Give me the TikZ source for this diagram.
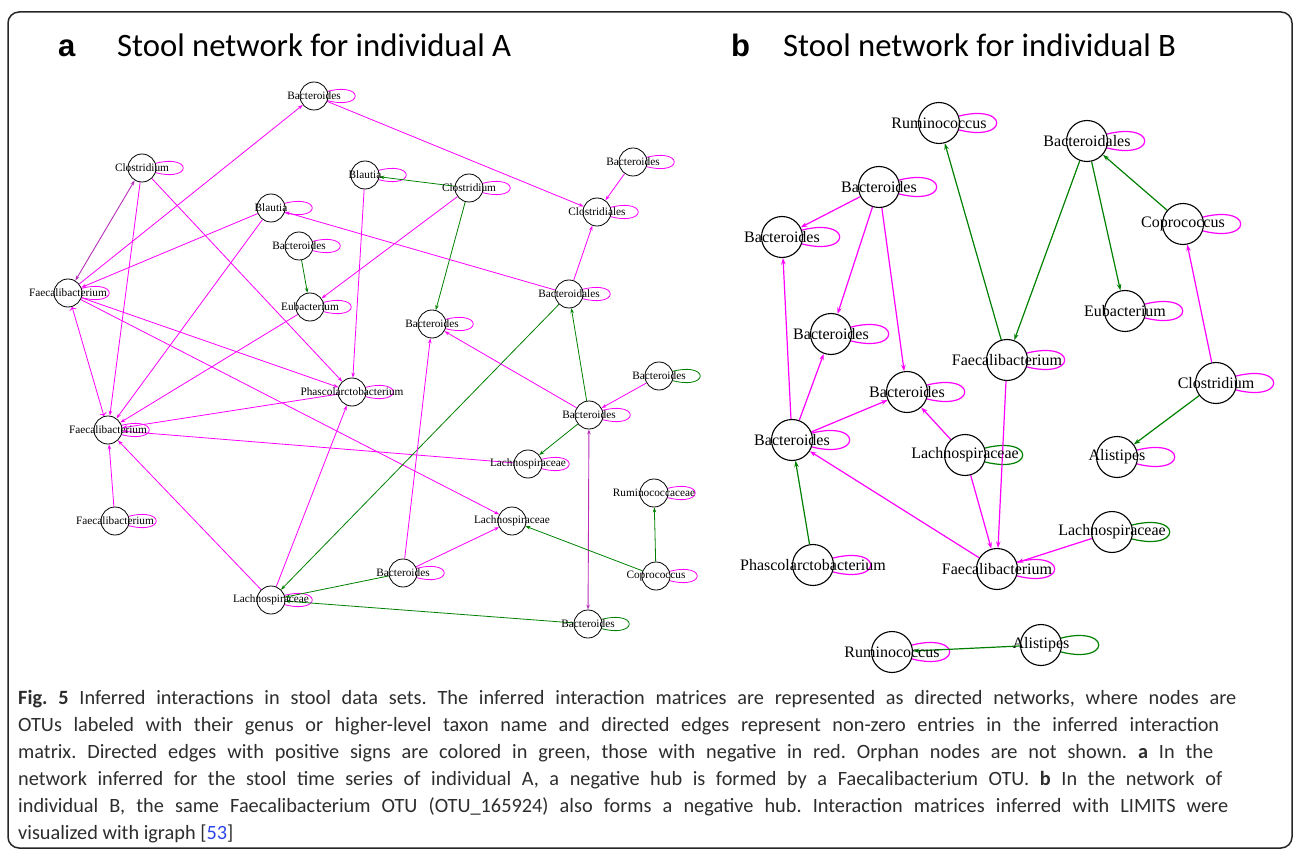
\documentclass[tikz,border=0pt]{standalone}
\usepackage{fontspec}
\setmainfont{Liberation Serif}
\newfontfamily\capfont{Carlito}
\newfontfamily\tagfont{Liberation Sans}
\usetikzlibrary{arrows.meta}
\pgfdeclarelayer{edges}
\pgfsetlayers{edges,main}
\definecolor{negcol}{RGB}{255,0,255}
\definecolor{poscol}{RGB}{0,128,0}
\definecolor{bothcol}{RGB}{185,45,185}
\definecolor{refblue}{RGB}{45,70,230}
\definecolor{captext}{RGB}{45,45,45}
\newcommand{\capline}[2]{\makebox[#1pt][s]{#2}}
\frenchspacing

\begin{document}
\begin{tikzpicture}[x=1pt,y=-1pt,
        % vertices of the two networks, label sits on the circle centre
        va/.style={circle, draw, fill=white, minimum size=28pt, inner sep=0pt, line width=0.8pt,
            label={[font=\fontsize{11.3}{12}\selectfont]center:#1}},
        vb/.style={circle, draw, fill=white, minimum size=41pt, inner sep=0pt, line width=1.1pt,
            label={[font=\fontsize{16}{17}\selectfont]center:#1}},
        nega/.style={draw=negcol, line width=0.8pt, -{Stealth[length=5pt,width=3.5pt]}},
        posa/.style={draw=poscol, line width=0.8pt, -{Stealth[length=5pt,width=3.5pt]}},
        botha/.style={draw=bothcol, line width=0.9pt, {Stealth[length=5pt,width=3.5pt]}-{Stealth[length=5pt,width=3.5pt]}},
        negb/.style={draw=negcol, line width=1.2pt, -{Stealth[length=6.5pt,width=4.5pt]}},
        posb/.style={draw=poscol, line width=1.2pt, -{Stealth[length=6.5pt,width=4.5pt]}},
        title/.style={font=\capfont\fontsize{32.7}{36}\selectfont, anchor=base west, inner sep=0pt},
        paneltag/.style={font=\tagfont\bfseries\fontsize{31}{36}\selectfont, anchor=base west, inner sep=0pt}
    ]
    \useasboundingbox (0,0) rectangle (1293,850);
    \draw[line width=1.5pt, rounded corners=11pt, black!85] (8,12) rectangle (1292,848);

    \node[paneltag] (tagA) at (58,57) {a};
    \node[title] (titleA) at (117,57) {Stool network for individual A};
    \node[paneltag] (tagB) at (731,57) {b};
    \node[title] (titleB) at (783,57) {Stool network for individual B};

    % panel a
    \node[va=Bacteroides] (aBac1) at (314,96) {};
    \node[va=Clostridium] (aClo1) at (142,168) {};
    \node[va=Blautia] (aBla1) at (271,208) {};
    \node[va=Blautia] (aBla2) at (365,175) {};
    \node[va=Clostridium] (aClo2) at (469,188) {};
    \node[va=Bacteroides] (aBac2) at (633,162) {};
    \node[va=Clostridiales] (aCls) at (597,212) {};
    \node[va=Bacteroides] (aBac3) at (299,246) {};
    \node[va=Faecalibacterium] (aFae1) at (68,293) {};
    \node[va=Eubacterium] (aEub) at (310,307) {};
    \node[va=Bacteroidales] (aBcd) at (569,294) {};
    \node[va=Bacteroides] (aBac4) at (432,324) {};
    \node[va=Phascolarctobacterium] (aPha) at (352,392) {};
    \node[va=Faecalibacterium] (aFae2) at (108,430) {};
    \node[va=Bacteroides] (aBac5) at (659,376) {};
    \node[va=Bacteroides] (aBac6) at (589,415) {};
    \node[va=Lachnospiraceae] (aLac1) at (528,464) {};
    \node[va=Faecalibacterium] (aFae3) at (115,521) {};
    \node[va=Ruminococcaceae] (aRum) at (654,493) {};
    \node[va=Lachnospiraceae] (aLac2) at (512,521) {};
    \node[va=Bacteroides] (aBac7) at (403,573) {};
    \node[va=Coprococcus] (aCop) at (656,576) {};
    \node[va=Lachnospiraceae] (aLac3) at (271,600) {};
    \node[va=Bacteroides] (aBac8) at (588,624) {};

    % panel b
    \node[vb=Ruminococcus] (bRum1) at (939,123) {};
    \node[vb=Bacteroides] (bBac1) at (879,187) {};
    \node[vb=Bacteroides] (bBac2) at (782,237) {};
    \node[vb=Bacteroidales] (bBcd) at (1087,141) {};
    \node[vb=Coprococcus] (bCop) at (1183,224) {};
    \node[vb=Eubacterium] (bEub) at (1125,311) {};
    \node[vb=Bacteroides] (bBac3) at (831,334) {};
    \node[vb=Faecalibacterium] (bFae1) at (1007,360) {};
    \node[vb=Bacteroides] (bBac4) at (907,392) {};
    \node[vb=Clostridium] (bClo) at (1216,383) {};
    \node[vb=Bacteroides] (bBac5) at (792,440) {};
    \node[vb=Lachnospiraceae] (bLac1) at (965,455) {};
    \node[vb=Alistipes] (bAli1) at (1117,457) {};
    \node[vb=Lachnospiraceae] (bLac2) at (1112,532) {};
    \node[vb=Phascolarctobacterium] (bPha) at (813,565) {};
    \node[vb=Faecalibacterium] (bFae2) at (997,569) {};
    \node[vb=Ruminococcus] (bRum2) at (892,652) {};
    \node[vb=Alistipes] (bAli2) at (1041,645) {};

    \begin{pgfonlayer}{edges}
    % self loops
    \foreach \v in {aBac1,aClo1,aBla1,aBla2,aClo2,aBac2,aCls,aBac3,aFae1,aEub,aBcd,aBac4,aPha,aFae2,aBac6,aLac1,aFae3,aRum,aBac7,aCop,aLac3}
        \draw[negcol, line width=0.8pt] (\v.center) .. controls +(55,-23) and +(55,23) .. (\v.center);
    \foreach \v in {aBac5,aBac8}
        \draw[poscol, line width=0.8pt] (\v.center) .. controls +(55,-23) and +(55,23) .. (\v.center);
    \foreach \v in {bRum1,bBac1,bBac2,bBcd,bCop,bEub,bBac3,bFae1,bBac4,bClo,bBac5,bAli1,bPha,bFae2,bRum2}
        \draw[negcol, line width=1.2pt] (\v.center) .. controls +(77,-33) and +(77,33) .. (\v.center);
    \foreach \v in {bLac1,bLac2,bAli2}
        \draw[poscol, line width=1.2pt] (\v.center) .. controls +(77,-33) and +(77,33) .. (\v.center);

    % edges a
    \draw[nega] (aFae1) -- (aBac1);
    \draw[botha] (aFae1) -- (aClo1);
    \draw[nega] (aBla1) -- (aFae1);
    \draw[nega, <->] (aFae1) -- (aFae2);
    \draw[nega] (aClo1) -- (aFae2);
    \draw[nega] (aBla1) -- (aFae2);
    \draw[nega] (aEub) -- (aFae2);
    \draw[nega] (aPha) -- (aFae2);
    \draw[nega] (aLac1) -- (aFae2);
    \draw[nega] (aLac3) -- (aFae2);
    \draw[nega] (aFae3) -- (aFae2);
    \draw[nega] (aFae1) -- (aPha);
    \draw[nega] (aFae1) -- (aLac2);
    \draw[nega] (aClo1) -- (aPha);
    \draw[nega] (aBla2) -- (aPha);
    \draw[posa] (aClo2) -- (aBla2);
    \draw[nega] (aClo2) -- (aEub);
    \draw[posa] (aClo2) -- (aBac4);
    \draw[posa] (aBac3) -- (aEub);
    \draw[nega] (aBac1) -- (aCls);
    \draw[nega] (aBac2) -- (aCls);
    \draw[nega] (aBcd) -- (aCls);
    \draw[nega] (aBcd) -- (aBla1);
    \draw[posa] (aBcd) -- (aLac3);
    \draw[posa] (aBac6) -- (aBcd);
    \draw[nega] (aBac6) -- (aBac4);
    \draw[nega] (aBac5) -- (aBac6);
    \draw[posa] (aBac6) -- (aLac1);
    \draw[botha] (aBac6) -- (aBac8);
    \draw[nega] (aBac7) -- (aBac4);
    \draw[nega] (aBac7) -- (aLac2);
    \draw[posa] (aCop) -- (aLac2);
    \draw[posa] (aCop) -- (aRum);
    \draw[nega] (aLac3) -- (aPha);
    \draw[posa] (aBac7) -- (aLac3);
    \draw[posa] (aBac8) -- (aLac3);

    % edges b
    \draw[posb] (bFae1) -- (bRum1);
    \draw[posb] (bBcd) -- (bFae1);
    \draw[posb] (bBcd) -- (bEub);
    \draw[posb] (bCop) -- (bBcd);
    \draw[negb] (bClo) -- (bCop);
    \draw[posb] (bClo) -- (bAli1);
    \draw[negb] (bBac1) -- (bBac2);
    \draw[negb] (bBac1) -- (bBac3);
    \draw[negb] (bBac1) -- (bBac4);
    \draw[negb] (bBac5) -- (bBac2);
    \draw[negb] (bBac5) -- (bBac3);
    \draw[negb] (bBac5) -- (bBac4);
    \draw[negb] (bLac1) -- (bBac4);
    \draw[negb] (bLac1) -- (bFae2);
    \draw[negb] (bFae1) -- (bFae2);
    \draw[negb] (bFae2) -- (bBac5);
    \draw[posb] (bPha) -- (bBac5);
    \draw[negb] (bLac2) -- (bFae2);
    \draw[posb] (bAli2) -- (bRum2);
    \end{pgfonlayer}

    % caption
    \node[anchor=north west, inner sep=0pt, align=left, text=captext,
          font=\capfont\fontsize{20.3}{27}\selectfont] (caption) at (18,690)
        {\capline{1218}{\textbf{Fig. 5} Inferred interactions in stool data sets. The inferred interaction matrices are represented as directed networks, where nodes are}\\
         \capline{1201}{OTUs labeled with their genus or higher-level taxon name and directed edges represent non-zero entries in the inferred interaction}\\
         \capline{1195}{matrix. Directed edges with positive signs are colored in green, those with negative in red. Orphan nodes are not shown. \textbf{a} In the}\\
         \capline{1204}{network inferred for the stool time series of individual A, a negative hub is formed by a Faecalibacterium OTU. \textbf{b} In the network of}\\
         \capline{1210}{individual B, the same Faecalibacterium OTU (OTU\_165924) also forms a negative hub. Interaction matrices inferred with LIMITS were}\\
         visualized with igraph [\textcolor{refblue}{53}]};
\end{tikzpicture}
\end{document}
